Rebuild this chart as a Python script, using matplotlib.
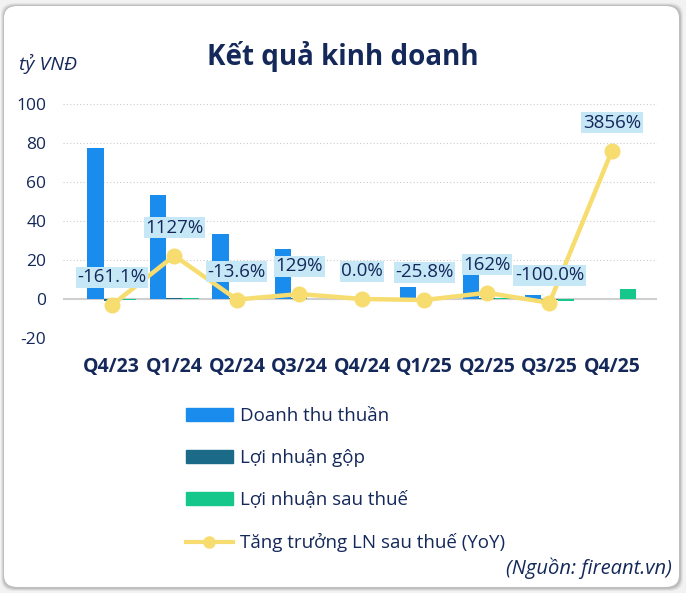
import numpy as np
import matplotlib.pyplot as plt
from matplotlib.patches import FancyBboxPatch
from matplotlib.lines import Line2D
from matplotlib.patches import Patch

plt.rcParams['font.family'] = ['Open Sans', 'DejaVu Sans']
plt.rcParams['axes.unicode_minus'] = False

quarters = ["Q4/23", "Q1/24", "Q2/24", "Q3/24", "Q4/24", "Q1/25", "Q2/25", "Q3/25", "Q4/25"]
doanh_thu = [77.5, 53.5, 33.5, 25.5, 0.0, 6.0, 21.5, 2.0, 0.0]
ln_gop = [-0.8, 0.4, 0.3, 0.3, 0.0, 0.4, 0.6, -0.3, 0.2]
ln_sau_thue = [-0.3, 0.3, 0.2, 0.2, 0.0, 0.2, 0.5, -0.8, 5.0]
tang_truong = [-161.1, 1127, -13.6, 129, 0.0, -25.8, 162, -100.0, 3856]
nhan = ["-161.1%", "1127%", "-13.6%", "129%", "0.0%", "-25.8%", "162%", "-100.0%", "3856%"]

navy = "#14285a"
c_dt = "#1a8cee"
c_gop = "#1b6a88"
c_ln = "#16c78c"
c_yoy = "#f7dc6f"

fig = plt.figure(figsize=(6.86, 5.93), dpi=100)
fig.patch.set_facecolor("#f2f2f2")

# card with soft shadow
for i, a in enumerate([0.05, 0.07, 0.10]):
    g = 3 - i
    fig.patches.append(FancyBboxPatch((4 / 686 - g / 686, 6 / 593 - g / 593 - 1 / 593),
                                      (676 + 2 * g) / 686, (582 + 2 * g) / 593,
                                      boxstyle="round,pad=0,rounding_size=0.02",
                                      transform=fig.transFigure, facecolor="black",
                                      edgecolor="none", alpha=a, zorder=-10))
fig.patches.append(FancyBboxPatch((4 / 686, 6 / 593), 675 / 686, 581 / 593,
                                  boxstyle="round,pad=0,rounding_size=0.02",
                                  transform=fig.transFigure, facecolor="white",
                                  edgecolor="none", zorder=-5))

ax = fig.add_axes([63 / 686, 255 / 593, 594 / 686, 234 / 593])
ax.set_facecolor("none")
x = np.arange(len(quarters))
w = 0.26
ax.bar(x - w, doanh_thu, w, color=c_dt, zorder=3)
ax.bar(x, ln_gop, w, color=c_gop, zorder=3)
ax.bar(x + w, ln_sau_thue, w, color=c_ln, zorder=3)

ax.set_xlim(-0.78, 8.72)
ax.set_ylim(-20, 100)
ax.set_yticks([-20, 0, 20, 40, 60, 80, 100])
ax.yaxis.grid(True, linestyle=(0, (1, 2)), color="#cccccc", linewidth=0.8, zorder=0)
ax.axhline(0, color="#cfcfcf", linewidth=1.5, zorder=2)
for s in ax.spines.values():
    s.set_visible(False)
ax.tick_params(axis="both", length=0)
ax.tick_params(axis="y", labelsize=12.5, labelcolor=navy, pad=12)
ax.set_xticks(x)
ax.set_xticklabels(quarters, fontsize=14, fontweight="bold", color=navy)
ax.tick_params(axis="x", pad=14)

ax2 = ax.twinx()
ax2.set_ylim(-20 * 50.7, 100 * 50.7)
ax2.axis("off")
ax2.plot(x, tang_truong, color=c_yoy, linewidth=3.2, marker="o", markersize=10.5, zorder=4)
for xi, yi, t in zip(x, tang_truong, nhan):
    ax2.annotate(t, (xi, yi), xytext=(0, 20), textcoords="offset points",
                 ha="center", va="center", fontsize=13.5, color=navy,
                 bbox=dict(boxstyle="square,pad=0.08", facecolor="#c5e7f6", edgecolor="none"),
                 zorder=5)

fig.text(343, 593 - 57, "Kết quả kinh doanh", transform=None, ha="center", va="center",
         fontsize=20, fontweight="bold", color=navy)
fig.text(19, 593 - 64, "tỷ VNĐ", transform=None, ha="left", va="center",
         fontsize=14, style="italic", color=navy)

handles = [Patch(color=c_dt), Patch(color=c_gop), Patch(color=c_ln),
           Line2D([0], [0], color=c_yoy, linewidth=3, marker="o", markersize=8)]
labels = ["Doanh thu thuần", "Lợi nhuận gộp", "Lợi nhuận sau thuế", "Tăng trưởng LN sau thuế (YoY)"]
leg = fig.legend(handles, labels, loc="upper left", bbox_to_anchor=(186 / 686, 1 - 407 / 593),
                 frameon=False, fontsize=13.5, labelcolor=navy, handlelength=2.5,
                 handleheight=0.65, labelspacing=1.28, handletextpad=0.37,
                 borderpad=0, borderaxespad=0)

fig.text(672, 593 - 568, "(Nguồn: fireant.vn)", transform=None, ha="right", va="center",
         fontsize=14.5, style="italic", color=navy)

fig.savefig("out.png", dpi=100, facecolor=fig.get_facecolor())
